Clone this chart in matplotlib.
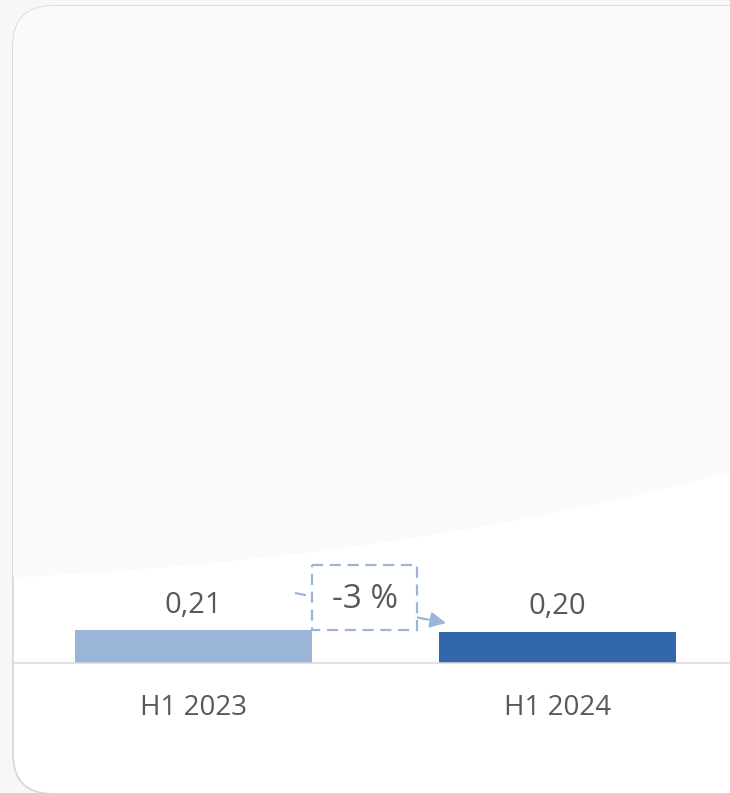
"""Half-year comparison card: H1 2023 vs H1 2024."""

import matplotlib
matplotlib.use('Agg')
import matplotlib.pyplot as plt
from matplotlib.patches import FancyBboxPatch, PathPatch, Rectangle
from matplotlib.path import Path

# data
periods = ['H1 2023', 'H1 2024']
values = [0.21, 0.20]
value_labels = ['0,21', '0,20']
change_label = '-3 %'

bar_colors = ['#9bb5d6', '#3267ab']
text_color = '#595959'
dash_color = '#9bb5d6'

plt.rcParams['font.family'] = ['Open Sans', 'DejaVu Sans']

W, H = 730, 793
fig = plt.figure(figsize=(W / 100, H / 100), dpi=100)
fig.patch.set_facecolor('#f7f7f7')

# background axes in pixel coords, origin top-left
bg = fig.add_axes([0, 0, 1, 1])
bg.set_xlim(0, W)
bg.set_ylim(H, 0)
bg.axis('off')

card = FancyBboxPatch((13, 6), 800, 788, boxstyle='round,pad=0,rounding_size=40',
                      facecolor='white', edgecolor='#d9d9d9', linewidth=1.3)
bg.add_patch(card)

# soft grey swoosh in the upper part of the card
verts = [(0, 578), (400, 560), (730, 472), (730, 0), (0, 0), (0, 578)]
codes = [Path.MOVETO, Path.CURVE3, Path.CURVE3, Path.LINETO, Path.LINETO, Path.CLOSEPOLY]
swoosh = PathPatch(Path(verts, codes), facecolor='#fafafa', edgecolor='none')
bg.add_patch(swoosh)
swoosh.set_clip_path(card)

# bars
ax = fig.add_axes([13 / W, 130 / H, (W - 13) / W, 400 / H])
ax.patch.set_alpha(0)
x = list(range(len(periods)))
ax.bar(x, values, width=0.651, color=bar_colors)
ax.set_xlim(-0.496, 1.474)
ax.set_ylim(0, 400 / 157)
for s in ['top', 'right', 'left']:
    ax.spines[s].set_visible(False)
ax.spines['bottom'].set_color('#d9d9d9')
ax.spines['bottom'].set_linewidth(1.1)
ax.set_yticks([])
ax.set_xticks(x, periods)
ax.tick_params(axis='x', length=0, pad=22, labelsize=20, labelcolor=text_color)

for xi, v, lab in zip(x, values, value_labels):
    ax.annotate(lab, (xi, v), xytext=(0, 18), textcoords='offset points',
                ha='center', va='center', fontsize=21, color=text_color)

# change indicator: dashed connector, solid head, dashed box
bg.plot([295, 432], [593, 620.4], color=dash_color, lw=1.6, linestyle=(0, (5, 3)))
bg.annotate('', xy=(446, 623), xytext=(428, 619.4),
            arrowprops=dict(arrowstyle='-|>,head_length=1.0,head_width=0.5',
                            color=dash_color, lw=1.2, shrinkA=0, shrinkB=0))
bg.add_patch(Rectangle((312, 565), 105, 65, facecolor='white', edgecolor=dash_color,
                       linewidth=1.6, linestyle=(0, (5, 3)), zorder=3))
bg.text(364.5, 600, change_label, ha='center', va='center', fontsize=24,
        color=text_color, zorder=4)

fig.savefig('out.png', dpi=100, facecolor=fig.get_facecolor())
